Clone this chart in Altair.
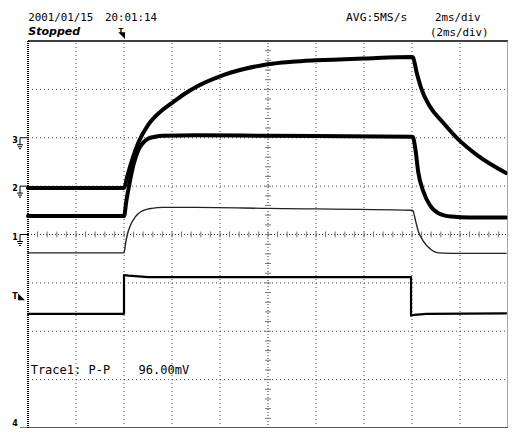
import altair as alt
import pandas as pd
import numpy as np

# ---- traces: time in divisions (0..10), level in divisions from centre (-4..4) ----
a_t = [0.0, 2.0, 2.06, 2.15, 2.3, 2.5, 2.75, 3.0, 3.25, 3.5, 4.0, 4.5, 5.0, 5.5, 6.0, 7.0, 8.0,
       8.02, 8.10, 8.20, 8.37, 8.65, 8.96, 9.37, 9.96]
a_v = [0.96, 0.96, 1.17, 1.48, 1.90, 2.26, 2.53, 2.72, 2.90, 3.05, 3.27, 3.42, 3.52, 3.57, 3.60, 3.64, 3.67,
       3.66, 3.34, 3.00, 2.65, 2.31, 1.97, 1.63, 1.27]

b_t = [0.0, 2.0, 2.05, 2.1, 2.2, 2.3, 2.4, 2.5, 2.65, 2.8, 3.5, 5.0, 8.0,
       8.02, 8.07, 8.13, 8.24, 8.37, 8.55, 8.82, 9.2, 9.96]
b_v = [0.38, 0.38, 0.70, 0.98, 1.45, 1.75, 1.90, 1.98, 2.02, 2.04, 2.05, 2.04, 2.02,
       2.01, 1.77, 1.29, 0.88, 0.61, 0.44, 0.37, 0.35, 0.35]

c_t = [0.0, 2.0, 2.03, 2.07, 2.13, 2.24, 2.35, 2.44, 2.58, 2.8, 3.5, 5.0, 8.0,
       8.02, 8.07, 8.13, 8.24, 8.37, 8.55, 8.8, 9.96]
c_v = [-0.38, -0.38, -0.20, 0.0, 0.18, 0.37, 0.47, 0.51, 0.54, 0.56, 0.56, 0.54, 0.50,
       0.49, 0.30, 0.07, -0.14, -0.29, -0.38, -0.39, -0.39]

d_t = [0.0, 2.0, 2.0, 2.1, 2.5, 5.0, 7.98, 7.98, 8.05, 8.3, 9.96]
d_v = [-1.64, -1.64, -0.84, -0.85, -0.88, -0.88, -0.88, -1.68, -1.66, -1.64, -1.63]

# channel ground markers (level in divisions)
marker_labels = ["3", "2", "1"]
marker_levels = [2, 1, 0]
bottom_label = "4"
bottom_level = -4

# screen texts
date_text = "2001/01/15"
time_text = "20:01:14"
state_text = "Stopped"
rate_text = "AVG:5MS/s"
tdiv_text = "2ms/div"
tdiv2_text = "(2ms/div)"
meas_text = "Trace1: P-P"
meas_val = "96.00mV"

W, H = 480, 387
PX = W / 10.0  # px per x division
PY = H / 8.0   # px per y division
xs = alt.Scale(domain=[0, 10], nice=False, zero=False)
ys = alt.Scale(domain=[-4, 4], nice=False, zero=False)
MONO = "DejaVu Sans Mono"


def ex(f):
    return alt.X(f, type="quantitative", scale=xs, axis=None)


def ey(f):
    return alt.Y(f, type="quantitative", scale=ys, axis=None)


def trace(t, v, width, color="black", interp="monotone"):
    d = pd.DataFrame({"t": t, "v": v, "i": range(len(t))})
    return alt.Chart(d).mark_line(color=color, strokeWidth=width, interpolate=interp,
                                  strokeJoin="round", strokeCap="round").encode(
        x=ex("t"), y=ey("v"), order=alt.Order("i:Q"))


def segs(rows, **kw):
    d = pd.DataFrame(rows, columns=["x0", "x1", "y0", "y1"])
    return alt.Chart(d).mark_rule(**kw).encode(x=ex("x0"), x2=alt.X2("x1"), y=ey("y0"), y2=alt.Y2("y1"))


def text(x, y, s, **kw):
    d = pd.DataFrame({"x": [x], "y": [y], "s": [s]})
    return alt.Chart(d).mark_text(**kw).encode(x=ex("x"), y=ey("y"), text="s:N")


def py(r):  # reference screen row -> division level
    return 4 - 8 * (r - 41) / 391.0


def pxx(c):  # reference screen column -> division time
    return 10 * (c - 28) / 486.0


# grid
vgrid = segs([[x, x, -4, 4] for x in [1, 2, 3, 4, 6, 7, 8, 9]], color="#444", strokeDash=[1, 3], strokeWidth=1)
hgrid = segs([[0, 10, y, y] for y in [-3, -2, -1, 1, 2, 3]], color="#444", strokeDash=[1, 3], strokeWidth=1)
center = segs([[5, 5, -4, 4], [0, 10, 0, 0]], color="#333", strokeDash=[1, 2], strokeWidth=1)
tick_x = np.round(np.arange(0.2, 10, 0.2), 2)
tick_y = np.round(np.arange(-3.8, 4, 0.2), 2)
hticks = segs([[x, x, -3 / PY, 3 / PY] for x in tick_x], color="#777", strokeWidth=1)
vticks = segs([[5 - 3 / PX, 5 + 3 / PX, y, y] for y in tick_y], color="#777", strokeWidth=1)

# frame
f_top = segs([[0, 10, 4, 4]], color="black", strokeWidth=1.5)
f_right = segs([[10, 10, -4, 4]], color="#888", strokeWidth=1.5)
f_bottom = segs([[0, 10, -4, -4]], color="#555", strokeWidth=2)
f_left = segs([[0, 0, -4, 4]], color="black", strokeWidth=2, strokeDash=[1, 1])

# traces
tA = trace(a_t, a_v, 4.0)
tB = trace(b_t, b_v, 4.0)
tC = trace(c_t, c_v, 1.4, color="#222")
tD = trace(d_t, d_v, 2.2, interp="linear")

# ground markers
grows = []
for L in marker_levels + [bottom_level]:
    grows += [
        [-8 / PX, 0, L, L],
        [-8 / PX, -8 / PX, L, L - 7 / PY],
        [-11 / PX, -5 / PX, L - 7 / PY, L - 7 / PY],
        [-10 / PX, -6 / PX, L - 9 / PY, L - 9 / PY],
        [-9 / PX, -7 / PX, L - 11 / PY, L - 11 / PY],
    ]
ground = segs(grows, color="black", strokeWidth=1)
mk = pd.DataFrame({"x": [-13 / PX] * len(marker_levels), "y": marker_levels, "s": marker_labels})
mk_text = alt.Chart(mk).mark_text(font="DejaVu Sans", fontSize=8, fontWeight="bold", align="center",
                                  baseline="top", dy=-1).encode(x=ex("x"), y=ey("y"), text="s:N")
mk4_text = text(-13 / PX, bottom_level, bottom_label, font="DejaVu Sans", fontSize=8, fontWeight="bold",
                align="center", baseline="bottom", dy=0)

# trigger markers
trig_left_t = text(-13 / PX, py(297), "T", font="DejaVu Sans", fontSize=8, fontWeight="bold",
                   align="center", baseline="top", dy=-1)
tri_df_l = pd.DataFrame({"x": [-6.5 / PX], "y": [py(299.5)]})
trig_left = alt.Chart(tri_df_l).mark_point(shape="M-1,-1L-1,1L1,1Z", filled=True, color="black",
                                           size=45, opacity=1).encode(x=ex("x"), y=ey("y"))
trig_top_t = text(pxx(122), py(27), "T", font="DejaVu Sans", fontSize=7, fontWeight="bold",
                  align="center", baseline="top")
tri_df_t = pd.DataFrame({"x": [pxx(122.8)], "y": [py(35.5)]})
trig_top = alt.Chart(tri_df_t).mark_point(shape="M-1,-1L1,-1L1,1Z", filled=True, color="black",
                                          size=45, opacity=1).encode(x=ex("x"), y=ey("y"))

# texts
t_date = text(pxx(28.3), py(21), date_text, font=MONO, fontSize=10.8, align="left", baseline="alphabetic", color="black")
t_time = text(pxx(106), py(21), time_text, font=MONO, fontSize=10.8, align="left", baseline="alphabetic", color="black")
t_state = text(pxx(28.3), py(35), state_text, font="DejaVu Sans", fontSize=11, fontWeight="bold", fontStyle="italic",
               align="left", baseline="alphabetic", color="black")
t_rate = text(pxx(350), py(21), rate_text, font=MONO, fontSize=11.3, align="left", baseline="alphabetic", color="black")
t_div = text(pxx(440), py(21), tdiv_text, font=MONO, fontSize=10.8, align="left", baseline="alphabetic", color="black")
t_div2 = text(pxx(435), py(36), tdiv2_text, font=MONO, fontSize=10.8, align="left", baseline="alphabetic", color="black")
t_meas = text(pxx(30.7), py(377), meas_text, font=MONO, fontSize=12, align="left", baseline="alphabetic", color="black")
t_meas2 = text(pxx(140), py(377), meas_val, font=MONO, fontSize=12, align="left", baseline="alphabetic", color="black")

chart = alt.layer(
    vgrid, hgrid, center, hticks, vticks,
    tA, tB, tC, tD,
    f_top, f_right, f_bottom, f_left,
    ground, mk_text, mk4_text, trig_left_t, trig_left, trig_top_t, trig_top,
    t_date, t_time, t_state, t_rate, t_div, t_div2, t_meas, t_meas2,
).properties(
    width=W, height=H, autosize="none",
    padding={"left": 20, "top": 33, "right": 0, "bottom": 0},
    background="white",
).configure_view(stroke=None)

chart.save("out.html", embed_options={"renderer": "svg", "actions": False})
